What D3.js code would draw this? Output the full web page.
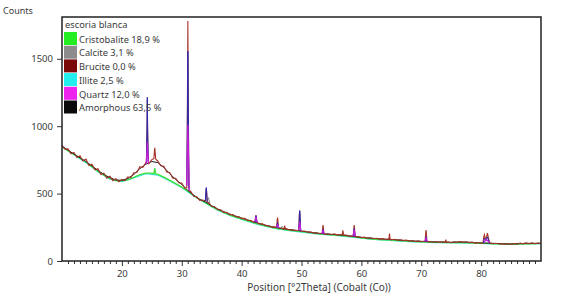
<!DOCTYPE html>
<html>
<head>
<meta charset="utf-8">
<script src="https://cdn.jsdelivr.net/npm/d3@7/dist/d3.min.js"></script>
<style>
  body { margin: 0; background: #fff; }
  svg text { font-family: "Noto Sans", "Open Sans", sans-serif; fill: #3a3a3a; }
</style>
</head>
<body>
<div id="chart"></div>
<script>
// ---- data ----
var legendTitle = "escoria blanca"
var phaseNames = ["Cristobalite", "Calcite", "Brucite", "Illite", "Quartz", "Amorphous"]
var phasePercent = ["18,9", "3,1", "0,0", "2,5", "12,0", "63,5"]
var yTicks = [0, 500, 1000, 1500]
var xTicks = [20, 30, 40, 50, 60, 70, 80]

// observed counts, 0.5 deg steps from 10 to 90
var obsStart = 10, obsStep = 0.5
var observedCounts = [
  858, 830, 832, 796, 806, 768, 780, 742, 756, 708,
  718, 676, 684, 642, 652, 614, 628, 596, 611, 588,
  606, 596, 624, 618, 655, 656, 700, 694, 730, 722,
  752, 742, 742, 706, 702, 660, 655, 614, 614, 580,
  578, 540, 530, 516, 480, 476, 450, 452, 432, 432,
  404, 402, 380, 380, 360, 362, 344, 345, 328, 330,
  314, 316, 300, 302, 287, 288, 274, 275, 262, 263,
  251, 253, 242, 245, 236, 238, 230, 232, 225, 227,
  219, 222, 213, 216, 207, 210, 202, 205, 198, 202,
  195, 201, 192, 196, 188, 192, 183, 186, 178, 181,
  173, 177, 169, 172, 165, 169, 162, 166, 160, 163,
  157, 161, 154, 158, 151, 155, 148, 152, 145, 149,
  143, 147, 141, 145, 139, 144, 138, 143, 140, 141,
  136, 143, 139, 145, 138, 143, 136, 140, 133, 137,
  132, 134, 134, 133, 128, 132, 126, 129, 124, 128,
  123, 130, 125, 133, 127, 134, 128, 134, 128, 133,
  130
]
var observedPeaks = [
  [[24.1, 735], [24.2, 980], [24.25, 1200], [24.3, 960], [24.4, 740]],
  [[25.35, 760], [25.45, 825], [25.5, 840], [25.55, 815], [25.65, 755]],
  [[30.85, 545], [30.95, 1200], [31.02, 1780], [31.1, 1150], [31.2, 525]],
  [[33.95, 445], [34.05, 520], [34.1, 540], [34.15, 515], [34.25, 438]],
  [[42.25, 290], [42.35, 330], [42.4, 340], [42.45, 325], [42.55, 286]],
  [[45.85, 250], [45.95, 310], [46.0, 322], [46.05, 305], [46.15, 246]],
  [[47.1, 240], [47.2, 262], [47.3, 238]],
  [[49.55, 228], [49.65, 350], [49.7, 372], [49.75, 345], [49.85, 225]],
  [[53.45, 204], [53.55, 255], [53.6, 266], [53.65, 250], [53.75, 202]],
  [[56.8, 194], [56.9, 228], [57.05, 192]],
  [[58.65, 184], [58.75, 250], [58.8, 266], [58.85, 248], [58.95, 182]],
  [[64.6, 161], [64.7, 204], [64.8, 160]],
  [[70.65, 146], [70.75, 215], [70.8, 230], [70.85, 212], [70.95, 145]],
  [[74.0, 141], [74.1, 158], [74.2, 140]],
  [[80.3, 135], [80.45, 180], [80.55, 195], [80.7, 165], [80.9, 175], [81.05, 206], [81.2, 175], [81.4, 134]]
]

// amorphous + background, 1 deg steps from 10 to 90
var calcStart = 10, calcStep = 1
var amorphousCounts = [
  852, 822, 793, 766, 738, 705, 672, 642, 618, 601,
  598, 612, 642, 685, 718, 738, 730, 694, 648, 604,
  568, 524, 488, 457, 437, 410, 386, 366, 349, 333,
  319, 305, 291, 278, 266, 255, 246, 239, 233, 228,
  222, 216, 210, 205, 201, 198, 195, 191, 186, 181,
  176, 172, 168, 165, 162, 160, 157, 153, 150, 148,
  146, 144, 142, 141, 140, 139, 141, 141, 139, 136,
  134, 133, 131, 129, 127, 126, 128, 130, 131, 131,
  131
]
// calculated profile around the reflections
var calcPeaks = [
  [[24.1, 728], [24.2, 1000], [24.25, 1215], [24.3, 990], [24.4, 732]],
  [[30.85, 560], [30.95, 1100], [31.02, 1555], [31.1, 1080], [31.2, 540]],
  [[33.95, 445], [34.05, 525], [34.1, 545], [34.15, 520], [34.25, 440]],
  [[42.25, 288], [42.4, 335], [42.55, 285]],
  [[45.85, 247], [46.0, 285], [46.15, 245]],
  [[49.55, 226], [49.65, 350], [49.7, 374], [49.75, 348], [49.85, 224]],
  [[53.45, 203], [53.6, 235], [53.75, 201]],
  [[58.65, 184], [58.8, 240], [58.95, 182]],
  [[70.65, 146], [70.8, 180], [70.95, 145]],
  [[80.4, 135], [80.55, 170], [80.8, 150], [81.05, 178], [81.4, 134]]
]

// cristobalite profile, 1 deg steps from 10 to 90
var cristobaliteCounts = [
  848, 818, 790, 762, 734, 700, 666, 636, 612, 597,
  594, 602, 620, 640, 652, 652, 642, 622, 598, 574,
  548, 518, 486, 456, 430, 404, 380, 360, 342, 326,
  312, 298, 284, 271, 260, 250, 241, 234, 228, 223,
  218, 212, 207, 202, 198, 194, 190, 186, 182, 177,
  172, 167, 162, 159, 157, 155, 152, 149, 146, 144,
  142, 140, 139, 138, 137, 136, 136, 136, 135, 133,
  131, 130, 128, 127, 126, 125, 126, 127, 128, 129,
  130
]
var cristobalitePeaks = [
  [[25.35, 648], [25.5, 690], [25.65, 646]]
]

// illite profile, 2 deg steps from 10 to 90
var illiteStart = 10, illiteStep = 2
var illiteCounts = [
  846, 788, 730, 662, 608, 590, 616, 648, 638, 594,
  545, 483, 428, 377, 339, 309, 281, 256, 238, 226,
  215, 204, 196, 188, 180, 170, 160, 155, 150, 144,
  140, 137, 136, 134, 133, 130, 127, 125, 125, 127,
  129
]

// quartz and calcite reflections
var quartzPeaks = [
  [[24.05, 720], [24.2, 820], [24.25, 880], [24.3, 815], [24.45, 725]],
  [[30.8, 560], [30.95, 850], [31.02, 1010], [31.1, 840], [31.25, 520]],
  [[42.2, 292], [42.4, 330], [42.6, 284]],
  [[45.8, 250], [46.0, 268], [46.2, 244]],
  [[49.5, 228], [49.7, 290], [49.9, 224]],
  [[53.4, 204], [53.6, 225], [53.8, 201]],
  [[58.6, 185], [58.8, 232], [59.0, 181]],
  [[70.6, 146], [70.8, 170], [71.0, 144]],
  [[80.5, 136], [80.8, 160], [81.1, 150], [81.4, 134]]
]
var calcitePeaks = [
  [[34.2, 436], [34.45, 470], [34.7, 428]],
  [[46.6, 243], [46.8, 258], [47.0, 240]]
]

// ---- styles ----
var swatchColors = ["#22ee22", "#8c8c8c", "#7a0a0a", "#22eeee", "#ee22ee", "#0a0a0a"]
var observedColor = "#a8342a"
var calcColor = "#2a2ab4"

function gridPoints(values, start, step) {
  return values.map((v, i) => [start + i * step, v])
}

// drop grid points that fall under a peak and put the peak points in
function withPeaks(points, peaks) {
  var pts = points.slice()
  peaks.forEach(function(p) {
    var lo = p[0][0], hi = p[p.length - 1][0]
    pts = pts.filter(d => d[0] < lo || d[0] > hi).concat(p)
  })
  return pts.sort((a, b) => a[0] - b[0])
}

function drawChart() {
  var dimensions = {
    width: 571,
    height: 303,
    margin: { top: 17, right: 30, bottom: 42, left: 62 }
  }
  dimensions.boundedWidth = dimensions.width - dimensions.margin.left - dimensions.margin.right
  dimensions.boundedHeight = dimensions.height - dimensions.margin.top - dimensions.margin.bottom

  var wrapper = d3.select("#chart")
    .append("svg")
    .attr("width", dimensions.width)
    .attr("height", dimensions.height)

  var bounds = wrapper.append("g")
    .attr("transform", `translate(${dimensions.margin.left},${dimensions.margin.top})`)

  var xScale = d3.scaleLinear()
    .domain([10, 90])
    .range([0, dimensions.boundedWidth])

  var yScale = d3.scaleLinear()
    .domain([0, 1810])
    .range([dimensions.boundedHeight, 0])

  var line = d3.line()
    .x(d => xScale(d[0]))
    .y(d => yScale(d[1]))

  var plot = bounds.append("g")

  // illite under cristobalite
  plot.append("path")
    .datum(gridPoints(illiteCounts, illiteStart, illiteStep))
    .attr("d", line)
    .attr("fill", "none")
    .attr("stroke", "#3ee6e6")
    .attr("stroke-width", 1.3)

  plot.append("path")
    .datum(withPeaks(gridPoints(cristobaliteCounts, calcStart, calcStep), cristobalitePeaks))
    .attr("d", line)
    .attr("fill", "none")
    .attr("stroke", "#3ee03e")
    .attr("stroke-width", 1.3)

  plot.selectAll(".calcite")
    .data(calcitePeaks).enter()
    .append("path")
    .attr("class", "calcite")
    .attr("d", line)
    .attr("fill", "none")
    .attr("stroke", "#8c8c8c")
    .attr("stroke-width", 1)

  plot.append("path")
    .datum(gridPoints(amorphousCounts, calcStart, calcStep))
    .attr("d", line)
    .attr("fill", "none")
    .attr("stroke", "#1a1a1a")
    .attr("stroke-width", 1)

  plot.append("path")
    .datum(withPeaks(gridPoints(observedCounts, obsStart, obsStep), observedPeaks))
    .attr("d", line)
    .attr("fill", "none")
    .attr("stroke", observedColor)
    .attr("stroke-width", 1.1)

  plot.selectAll(".calc")
    .data(calcPeaks).enter()
    .append("path")
    .attr("class", "calc")
    .attr("d", line)
    .attr("fill", "none")
    .attr("stroke", calcColor)
    .attr("stroke-width", 1)

  plot.selectAll(".quartz")
    .data(quartzPeaks).enter()
    .append("path")
    .attr("class", "quartz")
    .attr("d", line)
    .attr("fill", "none")
    .attr("stroke", "#c41ed8")
    .attr("stroke-width", 1.2)

  // axes
  var xAxisGenerator = d3.axisBottom(xScale)
    .tickValues(xTicks)
    .tickSize(5)
    .tickPadding(4)
  var xMinorGenerator = d3.axisBottom(xScale)
    .tickValues(d3.range(11, 90).filter(v => v % 10 != 0))
    .tickSize(3)
    .tickFormat("")
  var yAxisGenerator = d3.axisLeft(yScale)
    .tickValues(yTicks)
    .tickFormat(d3.format("d"))
    .tickSize(5)
    .tickPadding(4)

  bounds.append("g")
    .attr("class", "x axis")
    .attr("transform", `translate(0,${dimensions.boundedHeight})`)
    .call(xAxisGenerator)
  bounds.append("g")
    .attr("transform", `translate(0,${dimensions.boundedHeight})`)
    .call(xMinorGenerator)
    .call(g => g.select(".domain").remove())
  bounds.append("g")
    .attr("class", "y axis")
    .call(yAxisGenerator)

  bounds.selectAll(".axis text").style("font-size", "9.5px").style("font-family", null)
  bounds.selectAll(".tick line").attr("stroke", "#333")
  bounds.selectAll(".domain").remove()

  // frame
  bounds.append("rect")
    .attr("width", dimensions.boundedWidth)
    .attr("height", dimensions.boundedHeight)
    .attr("fill", "none")
    .attr("stroke", "#222")
    .attr("stroke-width", 1.5)

  wrapper.append("text")
    .attr("x", 3)
    .attr("y", 14)
    .style("font-size", "9px")
    .text("Counts")

  wrapper.append("text")
    .attr("x", 319)
    .attr("y", 291)
    .attr("text-anchor", "middle")
    .style("font-size", "10px")
    .text("Position [°2Theta] (Cobalt (Co))")

  // legend
  var legend = wrapper.append("g")
    .attr("transform", "translate(64,0)")
  legend.append("text")
    .attr("x", 1)
    .attr("y", 27.5)
    .style("font-size", "9.3px")
    .text(legendTitle)

  var rows = legend.selectAll(".row")
    .data(phaseNames).enter()
    .append("g")
    .attr("class", "row")
    .attr("transform", (d, i) => `translate(0,${42.7 + i * 13.7})`)
  rows.append("rect")
    .attr("x", 0)
    .attr("y", -10.7)
    .attr("width", 13)
    .attr("height", 13)
    .attr("fill", (d, i) => swatchColors[i])
  rows.append("text")
    .attr("x", 15)
    .attr("y", 0)
    .style("font-size", "9.3px")
    .text((d, i) => d + " " + phasePercent[i] + " %")
}
drawChart()
</script>
</body>
</html>
